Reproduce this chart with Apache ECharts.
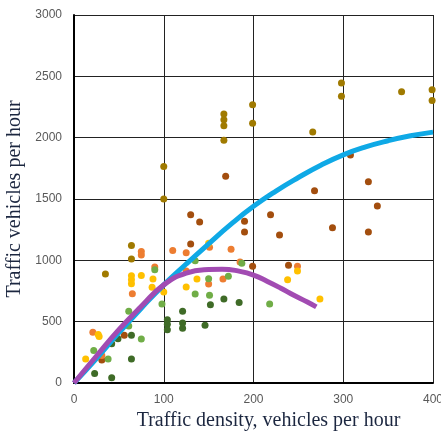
<!DOCTYPE html>
<html>
<head>
<meta charset="utf-8">
<script src="https://cdn.jsdelivr.net/npm/echarts@6/dist/echarts.min.js"></script>
<style>
  html, body { margin: 0; padding: 0; background: #fff; }
  #chart { width: 441px; height: 434px; }
</style>
</head>
<body>
<div id="chart"></div>
<script>
// scatter groups, [density, vehicles]
const goldPts = [[100,1765],[100,1500],[167,2193],[167,2147],[167,2098],[167,1978],[199,2269],[199,2117],
  [266,2046],[298,2446],[298,2337],[365,2375],[399,2391],[399,2304],[64,1120],[64,1011],[35,889]];
const brownPts = [[169,1685],[130,1372],[140,1313],[130,1133],[190,1318],[190,1231],[219,1372],[229,1207],
  [199,951],[239,959],[268,1568],[288,1266],[308,1859],[328,1641],[328,1231],[338,1443],[56,390],[31,187]];
const orangePts = [[75,1073],[75,1043],[65,728],[21,414],[90,946],[110,1080],[125,1062],[125,913],[151,1107],
  [150,808],[175,1090],[166,848],[185,986],[249,951],[31,225]];
const yellowPts = [[13,196],[27,395],[28,380],[64,875],[64,842],[64,810],[75,876],[88,848],[87,781],[100,742],
  [125,782],[137,848],[150,1140],[238,842],[249,913],[274,685]];
const lightGreenPts = [[90,924],[135,997],[150,850],[151,715],[135,726],[172,870],[187,976],[218,645],[98,645],
  [61,584],[61,464],[75,358],[38,195],[22,264]];
const darkGreenPts = [[23,78],[42,43],[64,195],[64,390],[49,361],[42,320],[104,516],[104,479],[104,435],
  [121,584],[121,489],[121,446],[146,470],[152,637],[167,684],[184,656]];

// fitted curves
const blueCurve = [[0,0],[25,200],[50,410],[75,610],[100,800],[125,970],[150,1135],[175,1295],[200,1440],
  [225,1565],[250,1675],[275,1775],[300,1860],[325,1925],[350,1975],[375,2015],[400,2045]];
const purpleCurve = [[0,0],[25,220],[50,435],[75,625],[100,800],[125,895],[150,925],[165,928],[185,910],
  [200,880],[215,830],[230,775],[245,715],[260,660],[270,620]];

const xTicks = { min: 0, max: 400, interval: 100 };
const yTicks = { min: 0, max: 3000, interval: 500 };

const chart = echarts.init(document.getElementById('chart'));

const dots = (data, color) => ({
  type: 'scatter',
  data: data,
  symbolSize: 7,
  itemStyle: { color: color, opacity: 1 },
  z: 2
});
const curve = (data, color) => ({
  type: 'line',
  data: data,
  smooth: true,
  showSymbol: false,
  lineStyle: { color: color, width: 5 },
  z: 3
});

chart.setOption({
  animation: false,
  grid: { left: 74, right: 8, top: 15, bottom: 51, outerBoundsMode: 'none' },
  xAxis: {
    type: 'value',
    min: xTicks.min, max: xTicks.max, interval: xTicks.interval,
    name: 'Traffic density, vehicles per hour',
    nameLocation: 'middle',
    nameGap: 28,
    nameTextStyle: { fontFamily: 'Liberation Serif', fontSize: 20, color: '#1c2740', padding: [0, 0, 0, 30] },
    axisLine: { show: true, lineStyle: { color: '#000', width: 2 } },
    axisTick: { show: false },
    axisLabel: { margin: 11, color: '#595959', fontFamily: 'Liberation Sans', fontSize: 12, formatter: v => String(v) },
    splitLine: { show: true, lineStyle: { color: '#222', width: 1 } }
  },
  yAxis: {
    type: 'value',
    min: yTicks.min, max: yTicks.max, interval: yTicks.interval,
    name: 'Traffic vehicles per hour',
    nameLocation: 'middle',
    nameGap: 45,
    nameTextStyle: { fontFamily: 'Liberation Serif', fontSize: 20, color: '#1c2740' },
    axisLine: { show: true, lineStyle: { color: '#000', width: 2 } },
    axisTick: { show: false },
    axisLabel: { margin: 12, color: '#595959', fontFamily: 'Liberation Sans', fontSize: 12, formatter: v => String(v) },
    splitLine: { show: true, lineStyle: { color: '#222', width: 1 } }
  },
  series: [
    dots(goldPts, '#A07A00'),
    dots(brownPts, '#A34E0E'),
    dots(orangePts, '#ED7D31'),
    dots(yellowPts, '#FFC000'),
    dots(lightGreenPts, '#70AD47'),
    dots(darkGreenPts, '#3F6B27'),
    curve(blueCurve, '#0FA9E6'),
    curve(purpleCurve, '#A24BB2')
  ]
});
</script>
</body>
</html>
